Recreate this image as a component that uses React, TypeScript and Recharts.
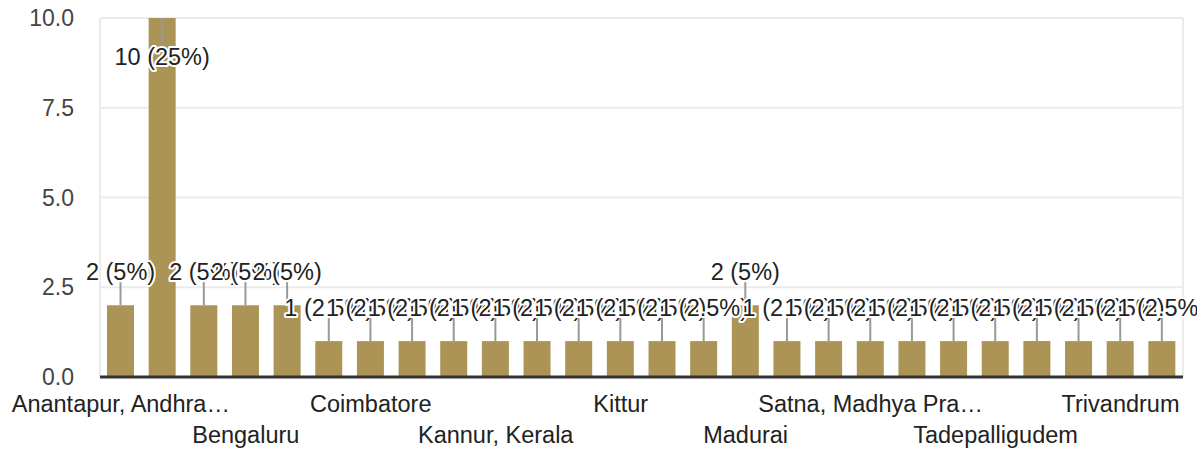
import React from 'react';
import { BarChart, Bar, XAxis, YAxis, CartesianGrid, LabelList } from 'recharts';

const cities = [
  'Anantapur, Andhra Pradesh', 'Bangalore', 'Bangalore, Karnataka', 'Bengaluru', 'Bhubaneswar',
  'Chennai', 'Coimbatore', 'Delhi', 'Hyderabad', 'Kannur, Kerala', 'Kanpur', 'Kerala', 'Kittur',
  'Kochi', 'Kolkata', 'Madurai', 'Mumbai', 'Mysore', 'Satna, Madhya Pradesh', 'Secunderabad',
  'Shimoga', 'Tadepalligudem', 'Thrissur', 'Tirupati', 'Trivandrum', 'Vellore',
];
const counts = [2, 10, 2, 2, 2, 1, 1, 1, 1, 1, 1, 1, 1, 1, 1, 2, 1, 1, 1, 1, 1, 1, 1, 1, 1, 1];
const yTicks = [0, 2.5, 5, 7.5, 10];

const total = counts.reduce((a, b) => a + b, 0);
const data = cities.map((city, i) => ({ city, count: counts[i] }));

const FONT = '"Liberation Sans", Arial, sans-serif';
const BAR = '#ab9455';

const shorten = (s: string) => (s.length > 18 ? s.slice(0, 17) + '…' : s);

function CityTick(props: any) {
  const { x, y, payload, index } = props;
  if (index % 3 !== 0) return null;
  const row = (index / 3) % 2;
  return (
    <text x={x} y={y} dy={row ? 58 : 27} textAnchor="middle" fill="#222" fontSize={23.5} fontFamily={FONT}>
      {shorten(payload.value)}
    </text>
  );
}

function DataLabel(props: any) {
  const vb = props.viewBox ?? props;
  const { x, y, width } = vb;
  const value = props.value as number;
  const cx = x + width / 2;
  const pct = Math.round((value / total) * 1000) / 10;
  const text = `${value} (${pct}%)`;
  const inside = y - 50 < 18;
  const lineEnd = inside ? y + 25 : y - 23;
  const ty = inside ? y + 47 : y - 25;
  return (
    <g>
      <line x1={cx} y1={y} x2={cx} y2={lineEnd} stroke="#999" strokeWidth={2} />
      <text
        x={cx}
        y={ty}
        textAnchor="middle"
        fontSize={23.5}
        fontFamily={FONT}
        fill="#222"
        stroke="#fff"
        strokeWidth={4}
        strokeLinejoin="round"
        style={{ paintOrder: 'stroke' }}
      >
        {text}
      </text>
    </g>
  );
}

export default function App() {
  return (
    <div style={{ position: 'absolute', left: 0, top: 0, background: '#fff' }}>
      <BarChart
        width={1197}
        height={452}
        data={data}
        margin={{ top: 18, right: 14, bottom: 0, left: 0 }}
        barSize={27}
      >
        <CartesianGrid stroke="#ebebeb" strokeWidth={2} verticalPoints={[100, 1183]} />
        <XAxis
          dataKey="city"
          interval={0}
          height={75}
          tick={<CityTick />}
          tickLine={false}
          axisLine={{ stroke: '#333', strokeWidth: 3 }}
        />
        <YAxis
          width={100}
          domain={[0, 10]}
          ticks={yTicks}
          tickFormatter={(v: number) => v.toFixed(1)}
          axisLine={false}
          tickLine={false}
          tickMargin={20}
          tick={{ fill: '#444', fontSize: 23, fontFamily: FONT }}
        />
        <Bar dataKey="count" fill={BAR} isAnimationActive={false}>
          <LabelList dataKey="count" content={<DataLabel />} />
        </Bar>
      </BarChart>
    </div>
  );
}
